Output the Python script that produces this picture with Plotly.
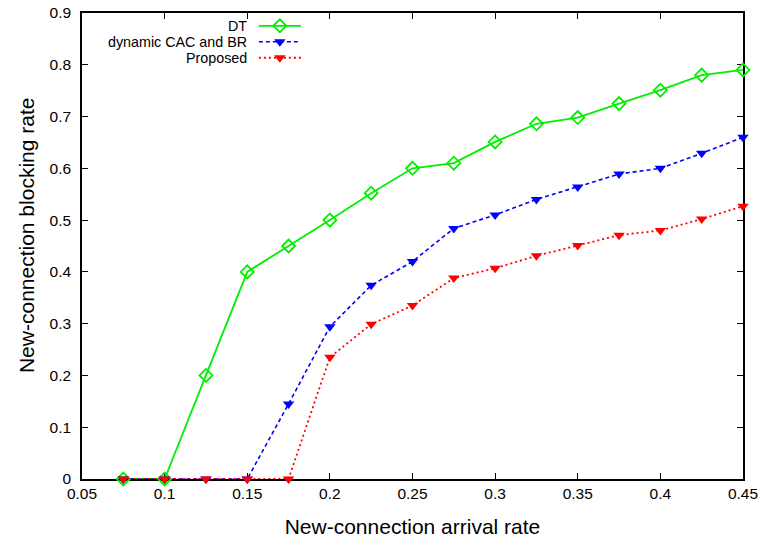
import plotly.graph_objects as go

x_vals = [0.075, 0.1, 0.125, 0.15, 0.175, 0.2, 0.225, 0.25, 0.275, 0.3, 0.325, 0.35, 0.375, 0.4, 0.425, 0.45]
dt = [0, 0, 0.2, 0.4, 0.45, 0.5, 0.552, 0.6, 0.61, 0.651, 0.686, 0.698, 0.725, 0.751, 0.78, 0.79]
dyn = [0, 0, 0, 0, 0.145, 0.294, 0.374, 0.42, 0.484, 0.51, 0.54, 0.564, 0.589, 0.6, 0.629, 0.66]
prop = [0, 0, 0, 0, 0, 0.235, 0.299, 0.335, 0.388, 0.407, 0.431, 0.451, 0.471, 0.48, 0.502, 0.527]
names = ["DT", "dynamic CAC and BR", "Proposed"]

FONT = "Liberation Sans, Arial, sans-serif"

fig = go.Figure()
fig.add_trace(go.Scatter(x=x_vals, y=dt, mode="lines+markers", name=" ", legend="legend",
                         line=dict(color="#00ee00", width=1.8),
                         marker=dict(symbol="diamond-open", size=10, color="#00ee00", line=dict(width=1.8)),
                         cliponaxis=False))
fig.add_trace(go.Scatter(x=x_vals, y=dyn, mode="lines+markers", name=" ", legend="legend2",
                         line=dict(color="#0000ff", width=1.6, dash="4px,3px"),
                         marker=dict(symbol="triangle-down", size=10, color="#0000ff"),
                         cliponaxis=False))
fig.add_trace(go.Scatter(x=x_vals, y=prop, mode="lines+markers", name=" ", legend="legend3",
                         line=dict(color="#ff0000", width=1.8, dash="2px,3px"),
                         marker=dict(symbol="triangle-down", size=10, color="#ff0000"),
                         cliponaxis=False))

# legend rows (paper fractions) at ~25.5, 41.5, 57.5 px from top
row_y = [0.9726, 0.9383, 0.9040]
for nm, yy in zip(names, row_y):
    fig.add_annotation(text=nm, x=0.2505, y=yy, xref="paper", yref="paper",
                       xanchor="right", yanchor="middle", showarrow=False, borderpad=0,
                       font=dict(family=FONT, size=14.3, color="black"))

# y-axis title (slightly above plot centre, as in the reference)
fig.add_annotation(text="New-connection blocking rate", x=-0.0847, y=0.5214,
                   xref="paper", yref="paper", textangle=-90, showarrow=False,
                   xanchor="center", yanchor="middle",
                   font=dict(family=FONT, size=21, color="black"))

axis_common = dict(showline=True, linecolor="black", linewidth=1.5, mirror="allticks",
                   ticks="inside", ticklen=6, tickwidth=1, tickcolor="black",
                   showgrid=False, zeroline=False, automargin=False, layer="below traces",
                   tickfont=dict(family=FONT, size=15.5, color="black"))

fig.update_xaxes(range=[0.05, 0.45], dtick=0.05, tick0=0.05,
                 title=dict(text="New-connection arrival rate", font=dict(family=FONT, size=21, color="black"), standoff=18),
                 **axis_common)
fig.update_yaxes(range=[0, 0.9], dtick=0.1, tick0=0,
                 ticklabelstandoff=6,
                 **axis_common)

leg_common = dict(x=0.26, xanchor="left", yanchor="top", bgcolor="rgba(0,0,0,0)",
                  borderwidth=0, itemwidth=42, font=dict(family=FONT, size=10))
fig.update_layout(width=762, height=541, margin=dict(l=82, r=19, t=13, b=62, autoexpand=False),
                  plot_bgcolor="white", paper_bgcolor="white",
                  showlegend=True,
                  legend=dict(y=1.0037, **leg_common),
                  legend2=dict(y=0.9694, **leg_common),
                  legend3=dict(y=0.9351, **leg_common))

fig.write_html("out.html")
